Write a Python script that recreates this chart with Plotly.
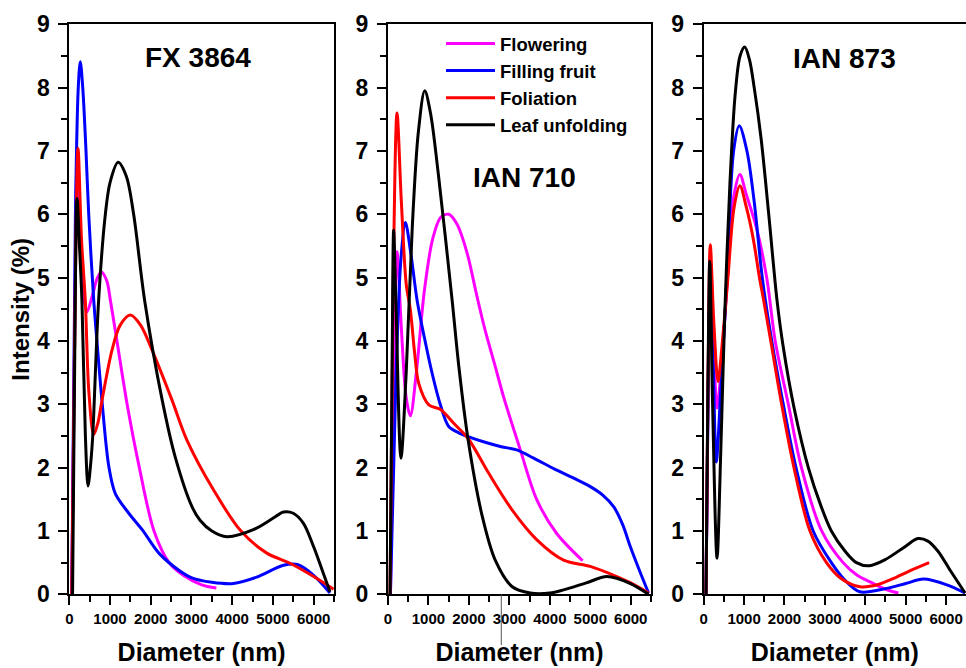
import plotly.graph_objects as go

# ---------------- data ----------------
series_names = ["Flowering", "Filling fruit", "Foliation", "Leaf unfolding"]
series_colors = ["#FF00FF", "#0000FF", "#FF0000", "#000000"]
panel_titles = ["FX 3864", "IAN 710", "IAN 873"]
x_tick_vals = [0, 1000, 2000, 3000, 4000, 5000, 6000]
y_tick_vals = [0, 1, 2, 3, 4, 5, 6, 7, 8, 9]

# Panel 1: FX 3864
fx_flowering_x = [60, 130, 190, 260, 350, 435, 560, 680, 787, 920, 1010, 1170, 1420, 1720, 2080, 2450, 2800, 3250, 3610]
fx_flowering_y = [0, 4.0, 6.7, 5.6, 4.7, 4.46, 4.7, 4.98, 5.09, 4.95, 4.64, 4.0, 3.0, 2.0, 1.0, 0.5, 0.3, 0.15, 0.1]
fx_filling_x = [60, 150, 220, 270, 330, 410, 477, 600, 680, 800, 970, 1130, 1460, 1790, 2200, 2690, 3010, 3500, 4030, 4600, 5260, 5600, 6000, 6400]
fx_filling_y = [0, 6.0, 8.0, 8.41, 8.0, 7.0, 6.0, 4.64, 3.99, 3.07, 2.02, 1.59, 1.28, 1.02, 0.65, 0.38, 0.26, 0.19, 0.17, 0.27, 0.46, 0.47, 0.3, 0.02]
fx_foliation_x = [60, 140, 214, 300, 393, 480, 600, 700, 805, 1050, 1250, 1500, 1750, 2030, 2520, 2885, 3540, 4200, 4850, 5420, 6000, 6490]
fx_foliation_y = [0, 4.5, 7.04, 5.6, 4.64, 3.2, 2.52, 2.7, 3.07, 3.86, 4.25, 4.41, 4.25, 3.86, 3.07, 2.44, 1.65, 1.01, 0.65, 0.49, 0.28, 0.08]
fx_leaf_x = [80, 130, 190, 250, 310, 395, 460, 530, 575, 720, 885, 1000, 1197, 1400, 1580, 1850, 2280, 2600, 3015, 3210, 3500, 3870, 4520, 5000, 5260, 5500, 5750, 6000, 6200, 6400]
fx_leaf_y = [0, 3.5, 6.25, 5.5, 4.64, 2.5, 1.71, 2.1, 2.5, 4.64, 6.0, 6.5, 6.82, 6.6, 6.0, 4.64, 3.07, 2.17, 1.38, 1.17, 1.0, 0.91, 1.02, 1.2, 1.30, 1.28, 1.12, 0.75, 0.4, 0.04]

# Panel 2: IAN 710
i710_flowering_x = [60, 140, 223, 330, 450, 553, 700, 900, 1100, 1300, 1500, 1700, 1950, 2200, 2400, 2650, 2855, 3270, 3680, 4170, 4810]
i710_flowering_y = [0, 3.5, 5.41, 4.2, 3.1, 2.82, 3.5, 4.8, 5.6, 5.95, 6.0, 5.85, 5.4, 4.7, 4.17, 3.6, 3.12, 2.28, 1.49, 0.96, 0.53]
i710_filling_x = [60, 200, 320, 430, 560, 720, 900, 1090, 1300, 1500, 1750, 1980, 2400, 2800, 3180, 3600, 4170, 4600, 5000, 5300, 5580, 5800, 5990, 6200, 6440]
i710_filling_y = [0, 3.5, 5.3, 5.87, 5.4, 4.64, 4.05, 3.49, 2.98, 2.65, 2.55, 2.49, 2.4, 2.33, 2.28, 2.15, 1.96, 1.83, 1.70, 1.57, 1.38, 1.1, 0.75, 0.4, 0.02]
i710_foliation_x = [50, 120, 223, 330, 450, 553, 660, 760, 1010, 1290, 1625, 1980, 2490, 3070, 3680, 4340, 5000, 5580, 6000, 6440]
i710_foliation_y = [0, 4.5, 7.6, 6.2, 4.9, 4.49, 3.8, 3.33, 2.99, 2.92, 2.7, 2.46, 1.91, 1.33, 0.86, 0.54, 0.44, 0.3, 0.18, 0.02]
i710_leaf_x = [50, 100, 140, 200, 320, 450, 600, 750, 908, 1050, 1250, 1585, 1750, 1980, 2330, 2650, 3070, 3515, 4000, 4340, 4900, 5410, 5990, 6440]
i710_leaf_y = [0, 3.5, 5.75, 4.5, 2.15, 3.5, 5.8, 7.3, 7.95, 7.6, 6.6, 4.64, 3.6, 2.44, 1.23, 0.54, 0.12, 0.02, 0.02, 0.07, 0.18, 0.28, 0.17, 0.0]

# Panel 3: IAN 873
i873_flowering_x = [57, 110, 170, 250, 330, 440, 590, 750, 895, 1060, 1300, 1560, 1770, 2095, 2420, 2920, 3450, 3800, 4200, 4500, 4820]
i873_flowering_y = [0, 3.4, 5.2, 3.9, 2.94, 3.6, 5.0, 6.3, 6.63, 6.3, 5.8, 5.0, 4.0, 3.0, 2.0, 1.0, 0.5, 0.3, 0.17, 0.08, 0.02]
i873_filling_x = [57, 110, 170, 240, 312, 420, 575, 740, 880, 1070, 1250, 1450, 1685, 1970, 2285, 2710, 3160, 3500, 3860, 4500, 5000, 5440, 6020, 6470]
i873_filling_y = [0, 3.2, 5.0, 3.5, 2.09, 3.2, 5.0, 7.0, 7.4, 7.0, 6.2, 5.0, 4.0, 3.0, 2.0, 1.0, 0.5, 0.22, 0.04, 0.09, 0.17, 0.24, 0.15, 0.02]
i873_foliation_x = [57, 110, 163, 250, 355, 450, 600, 750, 895, 1060, 1230, 1380, 1485, 1660, 1930, 2235, 2630, 3040, 3400, 3870, 4300, 4700, 5100, 5580]
i873_foliation_y = [0, 3.5, 5.52, 4.3, 3.36, 3.9, 5.0, 6.1, 6.45, 6.1, 5.6, 5.0, 4.64, 4.0, 3.0, 2.0, 1.0, 0.5, 0.25, 0.12, 0.15, 0.25, 0.37, 0.5]
i873_leaf_x = [57, 100, 150, 220, 330, 420, 520, 650, 780, 900, 1015, 1130, 1250, 1420, 1610, 1815, 1970, 2235, 2590, 2900, 3160, 3500, 3780, 4100, 4500, 5000, 5300, 5550, 5800, 6100, 6470]
i873_leaf_y = [0, 3.0, 5.26, 3.0, 0.57, 2.2, 4.4, 6.5, 7.9, 8.5, 8.64, 8.45, 8.0, 7.2, 6.0, 4.64, 3.9, 2.95, 2.0, 1.4, 1.0, 0.68, 0.5, 0.45, 0.55, 0.76, 0.88, 0.84, 0.68, 0.38, 0.02]

panels = [
    [(fx_flowering_x, fx_flowering_y), (fx_filling_x, fx_filling_y), (fx_foliation_x, fx_foliation_y), (fx_leaf_x, fx_leaf_y)],
    [(i710_flowering_x, i710_flowering_y), (i710_filling_x, i710_filling_y), (i710_foliation_x, i710_foliation_y), (i710_leaf_x, i710_leaf_y)],
    [(i873_flowering_x, i873_flowering_y), (i873_filling_x, i873_filling_y), (i873_foliation_x, i873_foliation_y), (i873_leaf_x, i873_leaf_y)],
]

# ---------------- layout geometry ----------------
W, H = 966, 668
FONT = "Liberation Sans, Arial, sans-serif"
x_domains = [(69.3 / W, 334 / W), (388 / W, 651 / W), (703.7 / W, 1.0)]
x_ranges = [[0, 6500], [0, 6500], [0, 6493]]
y_domain = [1 - 594.3 / H, 1 - 24.3 / H]

fig = go.Figure()

for p, panel in enumerate(panels):
    ax = "" if p == 0 else str(p + 1)
    for s, (xs, ys) in enumerate(panel):
        fig.add_trace(go.Scatter(
            x=xs, y=ys, mode="lines",
            line=dict(color=series_colors[s], width=3, shape="spline", smoothing=0.9),
            name=series_names[s], legendgroup=series_names[s],
            showlegend=(p == 1),
            xaxis="x" + ax, yaxis="y" + ax,
        ))

axis_common = dict(
    showline=True, linecolor="black", linewidth=2,
    ticks="outside", tickcolor="black", tickwidth=2,
    showgrid=False, zeroline=False, automargin=False,
)

for p in range(3):
    ax = "" if p == 0 else str(p + 1)
    yax = dict(
        domain=y_domain, range=[0, 9], anchor="x" + ax,
        tickvals=y_tick_vals, ticklen=9, ticklabelstandoff=4,
        minor=dict(dtick=0.5, ticks="outside", ticklen=6, tickwidth=2, tickcolor="black"),
        tickfont=dict(family=FONT, size=23, color="black", weight="bold"),
        mirror=(p != 2),
        **axis_common,
    )
    if p == 0:
        yax["title"] = dict(text="Intensity (%)", standoff=1,
                            font=dict(family=FONT, size=24, color="black", weight="bold"))
    fig.update_layout(**{
        "xaxis" + ax: dict(
            domain=list(x_domains[p]), range=x_ranges[p], anchor="y" + ax,
            tickvals=x_tick_vals, ticklen=9, ticklabelstandoff=1,
            minor=dict(dtick=500, ticks="outside", ticklen=6, tickwidth=2, tickcolor="black"),
            tickfont=dict(family=FONT, size=15, color="black", weight="bold"),
            title=dict(text="Diameter (nm)", standoff=17,
                       font=dict(family=FONT, size=25, color="black", weight="bold")),
            mirror=True,
            **axis_common,
        ),
        "yaxis" + ax: yax,
    })

annotations = []
# Panel titles
title_pos = [(197.5, 57.5), (524, 177), (844, 59)]
for t, (px, py) in zip(panel_titles, title_pos):
    annotations.append(dict(
        text=t, x=px / W, y=1 - py / H, xref="paper", yref="paper",
        showarrow=False, xanchor="center", yanchor="middle",
        font=dict(family=FONT, size=28, color="black", weight="bold"),
    ))

fig.update_layout(
    width=W, height=H,
    margin=dict(l=0, r=0, t=0, b=0),
    paper_bgcolor="white", plot_bgcolor="white",
    annotations=annotations,
    showlegend=True,
    legend=dict(
        x=441 / W, y=1 - 25 / H, xanchor="left", yanchor="top",
        bgcolor="rgba(0,0,0,0)", borderwidth=0,
        font=dict(family=FONT, size=18.5, color="black", weight="bold"),
        itemwidth=49, tracegroupgap=0,
    ),
    shapes=[dict(
        type="line", xref="x2", yref="paper", x0=2800, x1=2800,
        y0=1 - 645 / H, y1=1 - 594.3 / H,
        line=dict(color="#555555", width=1),
    )],
)

fig.write_html("out.html")
